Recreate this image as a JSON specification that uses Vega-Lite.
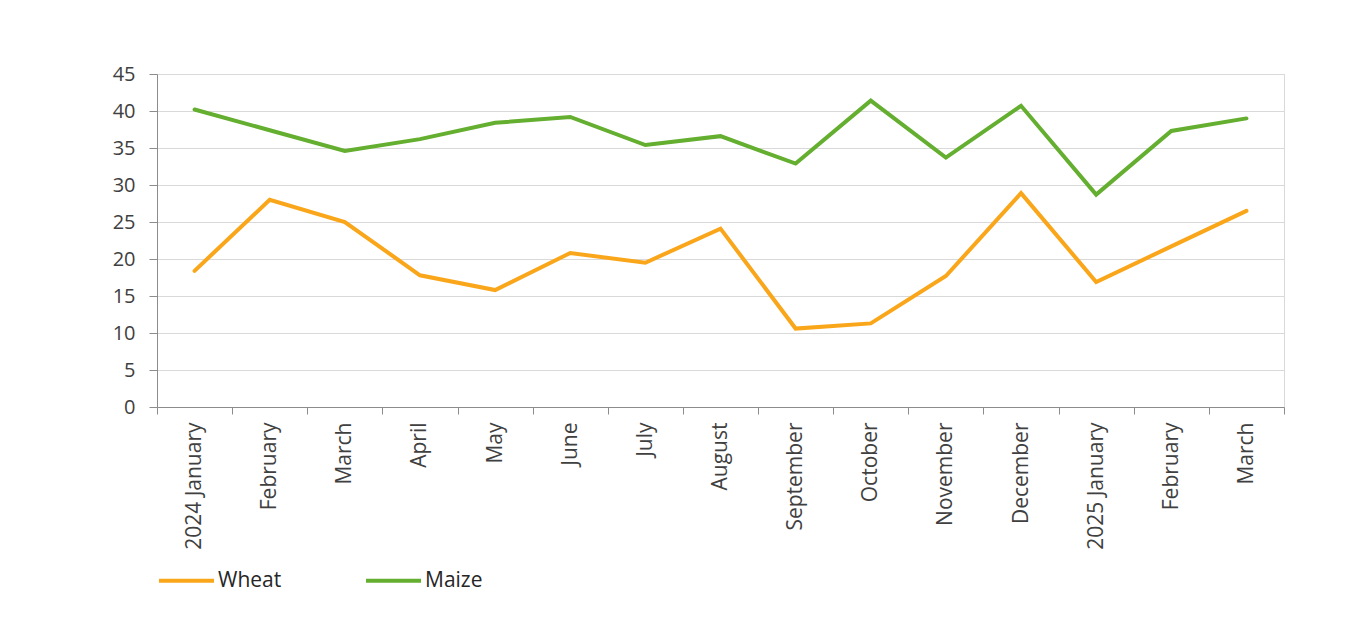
{
  "$schema": "https://vega.github.io/schema/vega-lite/v6.json",
  "autosize": {"type": "none"},
  "width": 1127,
  "height": 333,
  "padding": {"left": 157, "top": 74, "right": 78, "bottom": 220},
  "background": "white",
  "config": {
    "font": "Open Sans",
    "view": {"stroke": "#d9d9d9", "strokeWidth": 1}
  },
  "data": {
    "values": [
      {"series": "Wheat", "period": "2024-01", "value": 18.4},
      {"series": "Wheat", "period": "2024-02", "value": 28.0},
      {"series": "Wheat", "period": "2024-03", "value": 25.0},
      {"series": "Wheat", "period": "2024-04", "value": 17.8},
      {"series": "Wheat", "period": "2024-05", "value": 15.8},
      {"series": "Wheat", "period": "2024-06", "value": 20.8},
      {"series": "Wheat", "period": "2024-07", "value": 19.5},
      {"series": "Wheat", "period": "2024-08", "value": 24.1},
      {"series": "Wheat", "period": "2024-09", "value": 10.6},
      {"series": "Wheat", "period": "2024-10", "value": 11.3},
      {"series": "Wheat", "period": "2024-11", "value": 17.7},
      {"series": "Wheat", "period": "2024-12", "value": 28.9},
      {"series": "Wheat", "period": "2025-01", "value": 16.9},
      {"series": "Wheat", "period": "2025-02", "value": 21.7},
      {"series": "Wheat", "period": "2025-03", "value": 26.5},
      {"series": "Maize", "period": "2024-01", "value": 40.2},
      {"series": "Maize", "period": "2024-02", "value": 37.4},
      {"series": "Maize", "period": "2024-03", "value": 34.6},
      {"series": "Maize", "period": "2024-04", "value": 36.2},
      {"series": "Maize", "period": "2024-05", "value": 38.4},
      {"series": "Maize", "period": "2024-06", "value": 39.2},
      {"series": "Maize", "period": "2024-07", "value": 35.4},
      {"series": "Maize", "period": "2024-08", "value": 36.6},
      {"series": "Maize", "period": "2024-09", "value": 32.9},
      {"series": "Maize", "period": "2024-10", "value": 41.4},
      {"series": "Maize", "period": "2024-11", "value": 33.7},
      {"series": "Maize", "period": "2024-12", "value": 40.7},
      {"series": "Maize", "period": "2025-01", "value": 28.7},
      {"series": "Maize", "period": "2025-02", "value": 37.3},
      {"series": "Maize", "period": "2025-03", "value": 39.0}
    ]
  },
  "mark": {"type": "line", "strokeWidth": 4, "strokeCap": "round"},
  "encoding": {
    "x": {
      "field": "period",
      "type": "ordinal",
      "sort": null,
      "scale": {"type": "band", "paddingInner": 0, "paddingOuter": 0},
      "axis": {
        "title": null,
        "orient": "bottom",
        "labelAngle": -90,
        "labelExpr": "!isString(datum.value) ? '' : datum.value == '2024-01' ? '2024 January' : datum.value == '2025-01' ? '2025 January' : utcFormat(utc(toNumber(substring(datum.value, 0, 4)), toNumber(substring(datum.value, 5, 7)) - 1, 1), '%B')",
        "tickBand": "extent",
        "grid": false,
        "domainColor": "#8c8c8c",
        "tickColor": "#8c8c8c",
        "tickSize": 7,
        "labelPadding": 8,
        "labelFontSize": 21,
        "labelColor": "#404040",
        "labelFont": "Open Sans"
      }
    },
    "y": {
      "field": "value",
      "type": "quantitative",
      "scale": {"domain": [0, 45], "nice": false},
      "axis": {
        "title": null,
        "values": [0, 5, 10, 15, 20, 25, 30, 35, 40, 45],
        "gridColor": "#d9d9d9",
        "domainColor": "#8c8c8c",
        "tickColor": "#8c8c8c",
        "tickSize": 8,
        "labelPadding": 14,
        "labelFontSize": 20,
        "labelColor": "#404040",
        "labelFont": "Open Sans"
      }
    },
    "color": {
      "field": "series",
      "type": "nominal",
      "scale": {"domain": ["Wheat", "Maize"], "range": ["#FAA61A", "#64AE30"]},
      "legend": {
        "title": null,
        "orient": "none",
        "legendX": 0,
        "legendY": 477,
        "direction": "horizontal",
        "symbolType": "stroke",
        "symbolSize": 3025,
        "symbolStrokeWidth": 4,
        "labelFontSize": 21,
        "labelColor": "#262626",
        "labelOffset": 2,
        "columnPadding": 76,
        "labelFont": "Open Sans"
      }
    }
  }
}
